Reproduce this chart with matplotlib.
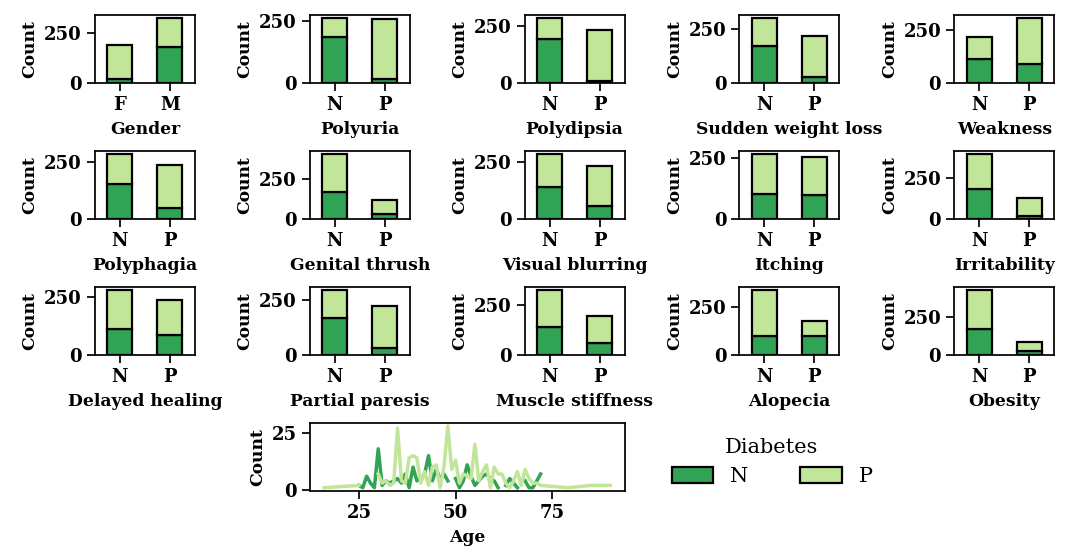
import numpy as np
import matplotlib
matplotlib.use("Agg")
import matplotlib.pyplot as plt
from matplotlib.patches import Patch

plt.rcParams['font.family'] = 'DejaVu Serif'
plt.rcParams['font.weight'] = 'bold'
plt.rcParams['axes.labelweight'] = 'bold'
plt.rcParams['axes.linewidth'] = 1.25
plt.rcParams['xtick.major.width'] = 1.25
plt.rcParams['ytick.major.width'] = 1.25
plt.rcParams['xtick.major.size'] = 6
plt.rcParams['ytick.major.size'] = 6

DARK = '#31a354'
LIGHT = '#c2e699'

features = ["Gender", "Polyuria", "Polydipsia", "Sudden weight loss", "Weakness",
            "Polyphagia", "Genital thrush", "Visual blurring", "Itching", "Irritability",
            "Delayed healing", "Partial paresis", "Muscle stiffness", "Alopecia", "Obesity"]
x_labels = [["F", "M"]] + [["N", "P"]] * 14

# Diabetes class N (dark, bottom) counts per category
count_n = [[19, 181], [185, 15], [192, 8], [171, 29], [113, 87],
           [152, 48], [167, 33], [142, 58], [101, 99], [184, 16],
           [114, 86], [168, 32], [140, 60], [99, 101], [173, 27]]
# Diabetes class P (light, stacked) counts per category
count_p = [[173, 147], [77, 243], [95, 225], [132, 188], [102, 218],
           [131, 189], [237, 83], [145, 175], [166, 154], [210, 110],
           [167, 153], [128, 192], [185, 135], [242, 78], [259, 61]]

nan = np.nan
ages = [16, 25, 26, 27, 28, 29, 30, 31, 32, 33, 34, 35, 36, 37, 38, 39, 40,
        41, 42, 43, 44, 45, 46, 47, 48, 49, 50, 51, 52, 53, 54, 55, 56, 57, 58,
        59, 60, 61, 62, 63, 64, 65, 66, 67, 68, 69, 70, 71, 72, 79, 85, 90]
age_n = [nan, 2, 1, 6, 3, 1, 18, 2, 4, 3, 4, 5, 3, 7, 1, 10, 4,
         5, 7, 15, 4, 9, 5, 7, 4, nan, 5, 1, 4, 11, 6, 2, 4, 6, 7,
         5, 4, 1, nan, 2, 5, 3, 1, nan, 4, 1, 1, 4, 7, nan, nan, nan]
age_p = [1, 2, nan, nan, nan, nan, 7, 3, 4, 2, 3, 27, 4, 3, 14, 15, 14,
         3, 8, 2, 10, 11, 1, 10, 28, 9, 13, 3, 7, 6, 5, 20, 4, 8, 11,
         1, 10, 7, 7, 3, 1, 4, 8, 2, 9, 5, 3, 3, 2, 1, 2, 2]

fig = plt.figure(figsize=(10.67, 5.49), dpi=100)
gs = fig.add_gridspec(4, 5, left=0.089, right=0.988, top=0.973, bottom=0.106,
                      wspace=1.15, hspace=1.0)

TICK_FS = 13
LABEL_FS = 12.3

for i, feat in enumerate(features):
    ax = fig.add_subplot(gs[i // 5, i % 5])
    x = np.arange(len(x_labels[i]))
    n = np.array(count_n[i])
    p = np.array(count_p[i])
    ax.bar(x, n, width=0.5, color=DARK, edgecolor='black', linewidth=1.6)
    ax.bar(x, p, bottom=n, width=0.5, color=LIGHT, edgecolor='black', linewidth=1.6)
    ax.set_xticks(x)
    ax.set_xticklabels(x_labels[i])
    ax.set_yticks([0, 250])
    ax.set_xlim(-0.5, 1.5)
    ax.set_ylim(0, (n + p).max() * 1.05)
    ax.set_xlabel(feat, fontsize=LABEL_FS, labelpad=5)
    ax.set_ylabel("Count", fontsize=LABEL_FS)
    ax.tick_params(labelsize=TICK_FS)

ax = fig.add_subplot(gs[3, 1:3])
ax.plot(ages, np.array(age_n, dtype=float), color=DARK, lw=2.5)
ax.plot(ages, np.array(age_p, dtype=float), color=LIGHT, lw=2.5)
ax.set_yticks([0, 25])
ax.set_xticks([25, 50, 75])
ax.set_xlabel("Age", fontsize=LABEL_FS, labelpad=5)
ax.set_ylabel("Count", fontsize=LABEL_FS)
ax.tick_params(labelsize=TICK_FS)

handles = [Patch(facecolor=DARK, edgecolor='black', linewidth=1.6),
           Patch(facecolor=LIGHT, edgecolor='black', linewidth=1.6)]
fig.legend(handles, ["N", "P"], title="Diabetes", ncol=2, frameon=False,
           loc='center', bbox_to_anchor=(772 / 1067, 1 - 462 / 549),
           prop={'weight': 'normal', 'size': 15},
           title_fontproperties={'weight': 'normal', 'size': 15},
           handlelength=2.0, handleheight=0.8, columnspacing=2.5)

fig.savefig("out.png", dpi=100)
